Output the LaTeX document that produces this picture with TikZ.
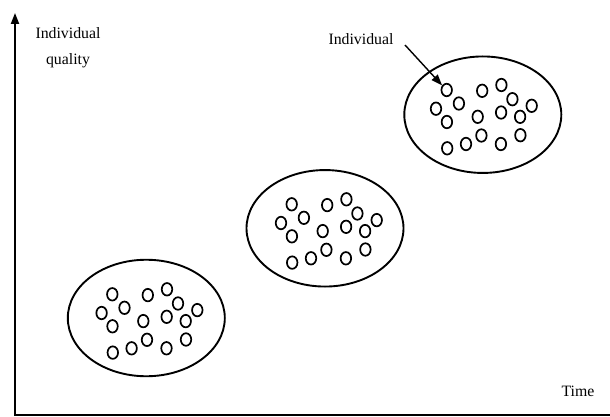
\documentclass[tikz,border=0pt]{standalone}
\usepackage{fontspec}
\setmainfont{Liberation Serif}
\usetikzlibrary{shapes.geometric,arrows.meta}
\begin{document}
\begin{tikzpicture}[x=1pt,y=-1pt,
  group/.style={ellipse, draw, line width=1.9pt, minimum width=157pt, minimum height=116.5pt, inner sep=0pt},
  indiv/.style={ellipse, draw, line width=1.7pt, minimum width=10.5pt, minimum height=12.5pt, inner sep=0pt},
  lbl/.style={font=\fontsize{15.8}{26}\selectfont, inner sep=0pt, align=center},
  axis/.style={line width=2pt},
  pointer/.style={line width=1.4pt, -{Triangle[length=11pt,width=8pt]}}]
\useasboundingbox (0,0) rectangle (610,417);
% axes
\coordinate (O) at (15,415);
\coordinate (ytop) at (15,13);
\coordinate (xend) at (610,415);
\draw[axis, {Triangle[length=11pt,width=8pt]}-] (ytop) -- (O) -- (xend);
% groups
\node[group] (g1) at (146.3,318) {};
\node[group] (g2) at (325,228.3) {};
\node[group] (g3) at (482.8,114.7) {};
% individuals
\foreach \cx/\cy/\k in {112.3/294.3/1, 291.7/204.3/2, 446.7/90/3} {
  \foreach \dx/\dy [count=\i] in {0/0, 35.5/0.8, 54.7/-5, 12.2/13.5, 65.7/9.2, -10.7/18.7, 85/15.8, 0.2/32, 31/26.8, 54.4/22.5, 73.4/26.8, 0.5/58.3, 19.3/54, 34.7/45.5, 54.2/54, 73.7/45.2} {
    \node[indiv] (c\k-\i) at (\cx+\dx,\cy+\dy) {};
  }
}
% labels
\node[lbl, anchor=north] (ylabel) at (68,27.5) {Individual\\quality};
\node[lbl, anchor=base] (xlabel) at (578,396.5) {Time};
\node[lbl, anchor=base] (indlabel) at (361,45) {Individual};
\coordinate (astart) at (405,45);
\draw[pointer] (astart) -- (c3-1.135);
\end{tikzpicture}
\end{document}
